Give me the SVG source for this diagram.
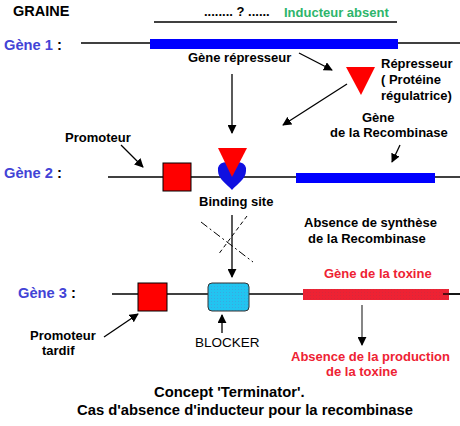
<svg xmlns="http://www.w3.org/2000/svg" width="460" height="426" viewBox="0 0 460 426">
<style>
text{font-family:"Liberation Sans",Arial,sans-serif;font-weight:bold;font-size:13px;fill:#000}
.gene{fill:#4343d6}
.red{fill:#ee2233}
.green{fill:#2db56b}
.ln{stroke:#000;stroke-width:1.3;fill:none}
.arr{stroke:#000;stroke-width:1.3;fill:none;marker-end:url(#ah)}
</style>
<defs>
<marker id="ah" viewBox="0 0 10 10" refX="9" refY="5" markerWidth="9" markerHeight="9" markerUnits="userSpaceOnUse" orient="auto">
<path d="M0,0 L10,5 L0,10 Z" fill="#000"/>
</marker>
<pattern id="dots" width="3" height="3" patternUnits="userSpaceOnUse">
<rect width="3" height="3" fill="#22c4f0"/><rect x="1" y="1" width="1" height="1" fill="#3aa8e0"/>
</pattern>
<pattern id="rdots" width="3" height="3" patternUnits="userSpaceOnUse">
<rect width="3" height="3" fill="#ee2233"/><rect x="1" y="1" width="1" height="1" fill="#d8283a"/>
</pattern>
</defs>

<g id="title">
<text x="13" y="16" style="font-size:14.5px">GRAINE</text>
<text x="204" y="16">........ ? ......</text>
<text x="284" y="17" class="green">Inducteur absent</text>
<line x1="154" y1="22" x2="397" y2="22" class="ln"/>
</g>

<g id="gene1">
<text x="4" y="50" style="font-size:14.7px"><tspan class="gene">Gène 1</tspan> :</text>
<line x1="81" y1="43" x2="460" y2="43" class="ln"/>
<rect x="150" y="39" width="248" height="10" fill="#0000ff"/>
<text x="188" y="62">Gène répresseur</text>
</g>

<g id="repressor">
<polygon points="346,67 375,67 361,95" fill="#ff0000"/>
<text x="381" y="68">Répresseur</text>
<text x="381" y="84">( Protéine</text>
<text x="381" y="100">régulatrice)</text>
</g>

<g id="gene2">
<text x="4" y="178" style="font-size:14.7px"><tspan class="gene">Gène 2</tspan> :</text>
<line x1="108" y1="177" x2="460" y2="177" class="ln"/>
<rect x="163" y="163" width="28" height="28" fill="#ff0000" stroke="#000" stroke-width="1"/>
<path d="M232,190 C227,184 218,179 218,171 A7,7 0 0 1 232,168 A7,7 0 0 1 246,171 C246,179 237,184 232,190 Z" fill="#1010e0"/>
<polygon points="218,148 247,148 232,177" fill="#ff0000"/>
<rect x="296" y="173" width="139" height="10" fill="#0000ff"/>
<text x="65" y="142">Promoteur</text>
<text x="362" y="122">Gène</text>
<text x="330" y="137">de la Recombinase</text>
<text x="199" y="206">Binding site</text>
</g>

<g id="absence1">
<text x="304" y="227">Absence de synthèse</text>
<text x="308" y="243">de la Recombinase</text>
</g>

<g id="gene3">
<text x="18" y="298" style="font-size:14.7px"><tspan class="gene">Gène 3</tspan> :</text>
<line x1="112" y1="294" x2="460" y2="294" class="ln"/>
<rect x="138" y="283" width="29" height="28" fill="#ff0000" stroke="#000" stroke-width="1"/>
<rect x="208" y="283" width="41" height="28" rx="4" fill="url(#dots)" stroke="#333" stroke-width="1"/>
<rect x="303" y="289" width="146" height="11" fill="url(#rdots)"/>
<line x1="443" y1="294" x2="460" y2="294" class="ln"/>
<text x="324" y="278" class="red">Gène de la toxine</text>
<text x="30" y="340">Promoteur</text>
<text x="42" y="355">tardif</text>
<text x="195" y="347" style="font-weight:normal;font-size:13.5px">BLOCKER</text>
<text x="291" y="361" class="red">Absence de la production</text>
<text x="326" y="376" class="red">de la toxine</text>
</g>

<g id="caption">
<text x="154" y="397" style="font-size:14.8px">Concept 'Terminator'.</text>
<text x="77" y="415" style="font-size:14.8px">Cas d'absence d'inducteur pour la recombinase</text>
</g>

<g id="connectors">
<line x1="299" y1="53" x2="332" y2="70" class="arr"/>
<line x1="232" y1="74" x2="232" y2="133" class="arr"/>
<line x1="347" y1="84" x2="283" y2="125" class="arr"/>
<line x1="121" y1="145" x2="143" y2="167" class="arr"/>
<line x1="400" y1="145" x2="392" y2="162" class="arr"/>
<line x1="232" y1="215" x2="232" y2="277" class="arr"/>
<line x1="201" y1="222" x2="253" y2="262" stroke="#000" stroke-width="1" stroke-dasharray="8,3,2,3"/>
<line x1="247" y1="216" x2="218" y2="255" stroke="#000" stroke-width="1" stroke-dasharray="4,3"/>
<line x1="104" y1="337" x2="138" y2="314" class="arr"/>
<line x1="222" y1="333" x2="222" y2="315" class="arr"/>
<line x1="362" y1="305" x2="362" y2="345" class="arr" style="stroke:#444"/>
</g>
</svg>
